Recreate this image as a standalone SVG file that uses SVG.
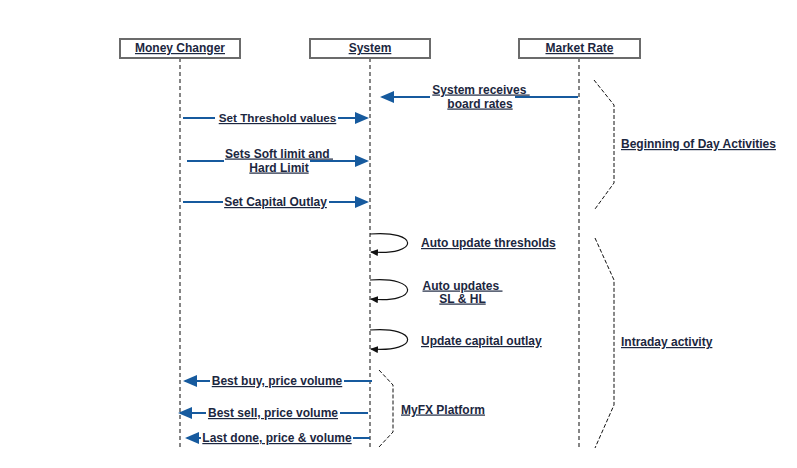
<svg xmlns="http://www.w3.org/2000/svg" width="797" height="468" viewBox="0 0 797 468">
<defs>
<style>
.box{fill:#fff;stroke:#6b6b6b;stroke-width:2}
.life{stroke:#858585;stroke-width:2;stroke-dasharray:4 3;fill:none}
.msg{stroke:#165a9e;stroke-width:2;fill:none}
.loop{stroke:#111;stroke-width:1.2;fill:none}
.brk{stroke:#111;stroke-width:1;stroke-dasharray:4 2;fill:none}
.bg{fill:#fff}
text{font-family:"Liberation Sans",Arial,sans-serif;font-weight:bold;font-size:12px;fill:#1c2740;text-decoration:underline;white-space:pre}
.m{text-anchor:middle}
</style>
<marker id="ah" markerWidth="14" markerHeight="12" refX="12" refY="6" orient="auto" markerUnits="userSpaceOnUse"><path d="M0,0 L14,6 L0,12 z" fill="#165a9e"/></marker>
<marker id="sh" markerWidth="8" markerHeight="7" refX="7" refY="3.5" orient="auto" markerUnits="userSpaceOnUse"><path d="M0,0 L8,3.5 L0,7 z" fill="#111"/></marker>
</defs>
<rect width="797" height="468" fill="#fff"/>

<g id="lifelines">
<line class="life" x1="180" y1="58" x2="180" y2="448"/>
<line class="life" x1="370" y1="58" x2="370" y2="448"/>
<line class="life" x1="579" y1="58" x2="579" y2="448"/>
</g>

<g id="money-changer"><rect class="box" x="120" y="39" width="120" height="19"/><text class="m" x="180" y="52">Money Changer</text></g>
<g id="system"><rect class="box" x="310" y="39" width="120" height="19"/><text class="m" x="370" y="52">System</text></g>
<g id="market-rate"><rect class="box" x="519" y="39" width="121" height="19"/><text class="m" x="579.5" y="52">Market Rate</text></g>

<g id="connectors">
<path class="msg" d="M578,97 H382" marker-end="url(#ah)"/>
<path class="msg" d="M183,118 H367" marker-end="url(#ah)"/>
<path class="msg" d="M187,161 H367" marker-end="url(#ah)"/>
<path class="msg" d="M183,202 H367" marker-end="url(#ah)"/>
<path class="loop" d="M370,234 C420,230 420,256 371,252" marker-end="url(#sh)"/>
<path class="loop" d="M370,280 C420,276 420,304 371,299" marker-end="url(#sh)"/>
<path class="loop" d="M370,330 C420,326 420,353 371,349" marker-end="url(#sh)"/>
<path class="msg" d="M372,381 H185" marker-end="url(#ah)"/>
<path class="msg" d="M368,413 H180" marker-end="url(#ah)"/>
<path class="msg" d="M370,438 H187" marker-end="url(#ah)"/>
</g>

<g id="label-board-rates"><rect class="bg" x="430" y="90" width="85" height="14"/><text class="m" x="481" y="93.5" xml:space="preserve">System receives </text><text class="m" x="480" y="107.5">board rates</text></g>
<g id="label-threshold"><rect class="bg" x="215" y="111" width="123" height="14"/><text class="m" x="277.5" y="122" style="font-size:11.7px">Set Threshold values</text></g>
<g id="label-soft-hard"><rect class="bg" x="224" y="155" width="86" height="12"/><text class="m" x="279" y="157.5" xml:space="preserve">Sets Soft limit and </text><text class="m" x="279" y="171.5">Hard Limit</text></g>
<g id="label-capital"><rect class="bg" x="223" y="195" width="106" height="14"/><text class="m" x="275.5" y="206">Set Capital Outlay</text></g>
<g id="label-auto-thresholds"><text x="421" y="247">Auto update thresholds</text></g>
<g id="label-auto-sl-hl"><text class="m" x="462.5" y="289.5" xml:space="preserve">Auto updates </text><text class="m" x="462.5" y="302.5">SL &amp; HL</text></g>
<g id="label-capital-outlay"><text x="421" y="345">Update capital outlay</text></g>
<g id="label-best-buy"><rect class="bg" x="210" y="374" width="134" height="14"/><text class="m" x="277" y="385">Best buy, price volume</text></g>
<g id="label-best-sell"><rect class="bg" x="206" y="406" width="134" height="14"/><text class="m" x="273" y="417">Best sell, price volume</text></g>
<g id="label-last-done"><rect class="bg" x="201" y="431" width="152" height="14"/><text class="m" x="277" y="442">Last done, price &amp; volume</text></g>

<g id="bracket-bod"><path class="brk" d="M594,80 L614,105 L614,183 L595,209"/><text x="621" y="148">Beginning of Day Activities</text></g>
<g id="bracket-intraday"><path class="brk" d="M595,238 L614,280 L614,405 L595,448"/><text x="621" y="346">Intraday activity</text></g>
<g id="bracket-myfx"><path class="brk" d="M379,370 L393,385 L393,432 L379,447"/><text x="401" y="413.5">MyFX Platform</text></g>
</svg>
